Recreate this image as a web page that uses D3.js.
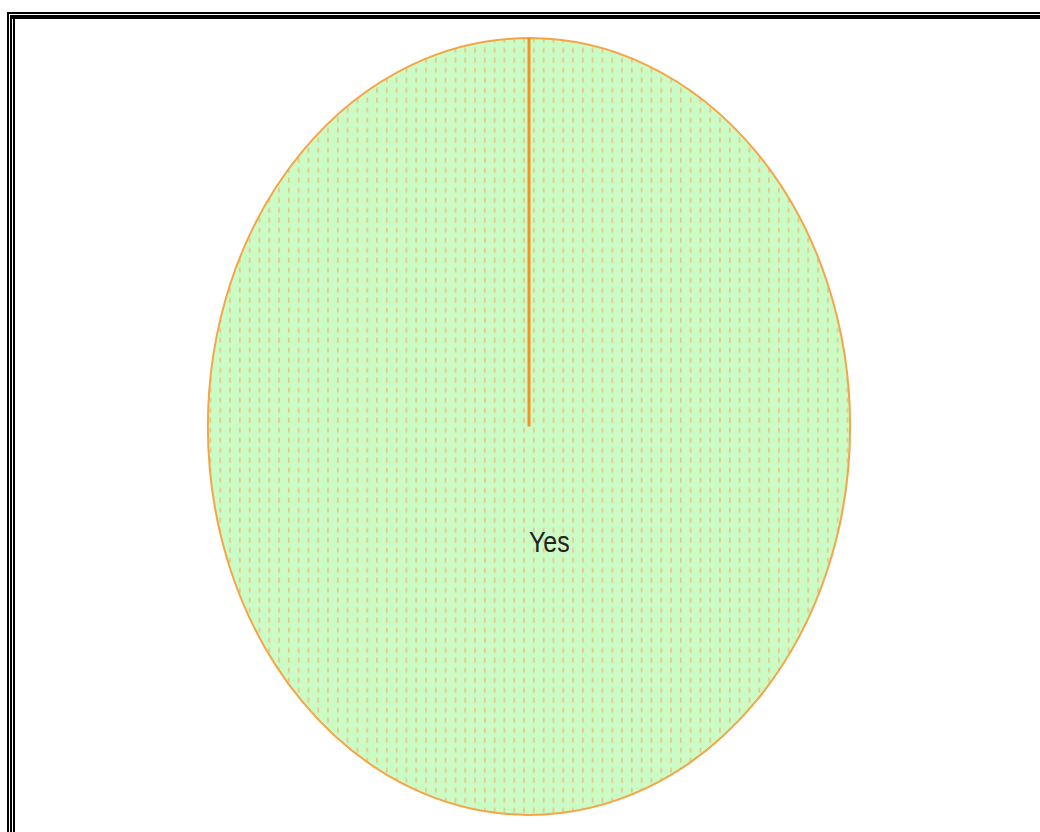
<!DOCTYPE html>
<html>
<head>
<meta charset="utf-8">
<script src="https://cdn.jsdelivr.net/npm/d3@7"></script>
<style>
  html, body { margin: 0; padding: 0; background: #fff; }
  svg { display: block; }
</style>
</head>
<body>
<svg id="chart" width="1040" height="832"></svg>
<script>
// Survey answers and their share of responses
const categories = ["Yes"];
const values = [100];

const W = 1040, H = 832;
const cx = 529, cy = 426.5;
const radius = 321;          // horizontal radius
const yStretch = 1.21;       // the pie is drawn as an upright ellipse

const svg = d3.select("#chart");

// Framed border (triple rule on the left, double on top)
const frame = svg.append("g").attr("fill", "#000");
[
  [7, 12, W - 7, 2],
  [7, 12, 2, H - 12],
  [10, 15, W - 10, 4],
  [10, 15, 2, H - 15],
  [13, 15, 2, H - 15]
].forEach(([x, y, w, h]) => frame.append("rect").attr("x", x).attr("y", y).attr("width", w).attr("height", h));

// Dotted fill pattern
const defs = svg.append("defs");
const pat = defs.append("pattern")
  .attr("id", "dots")
  .attr("patternUnits", "userSpaceOnUse")
  .attr("width", 9.8)
  .attr("height", 10 / yStretch);
pat.append("rect").attr("width", 9.8).attr("height", 10 / yStretch).attr("fill", "#ccfcc6");
pat.append("rect")
  .attr("x", 4).attr("y", 1)
  .attr("width", 1.6).attr("height", 5 / yStretch)
  .attr("fill", "#e6c384");

const pie = d3.pie().sort(null).value(d => d);
const arcs = pie(values);
const arc = d3.arc().innerRadius(0).outerRadius(radius);
const labelArc = d3.arc().innerRadius(95).outerRadius(95);

const g = svg.append("g")
  .attr("transform", `translate(${cx},${cy}) scale(1,${yStretch})`);

g.selectAll("path.slice")
  .data(arcs)
  .join("path")
  .attr("class", "slice")
  .attr("d", arc)
  .attr("fill", "url(#dots)")
  .attr("stroke", "#f5a548")
  .attr("stroke-width", 2)
  .attr("vector-effect", "non-scaling-stroke");

// Slice boundary from centre to the start angle
g.selectAll("line.edge")
  .data(arcs)
  .join("line")
  .attr("class", "edge")
  .attr("x1", 0).attr("y1", 0)
  .attr("x2", d => radius * Math.sin(d.startAngle))
  .attr("y2", d => -radius * Math.cos(d.startAngle))
  .attr("stroke", "#f39220")
  .attr("stroke-width", 3)
  .attr("vector-effect", "non-scaling-stroke");

// Labels
g.selectAll("text.label")
  .data(arcs)
  .join("text")
  .attr("class", "label")
  .attr("transform", d => {
    const [x, y] = labelArc.centroid(d);
    return `translate(${x},${y})`;
  })
  .attr("dy", "0.35em")
  .attr("text-anchor", "start")
  .attr("font-family", "Liberation Sans, Arial, sans-serif")
  .attr("font-size", 25)
  .attr("fill", "#222")
  .text((d, i) => categories[i]);
</script>
</body>
</html>
